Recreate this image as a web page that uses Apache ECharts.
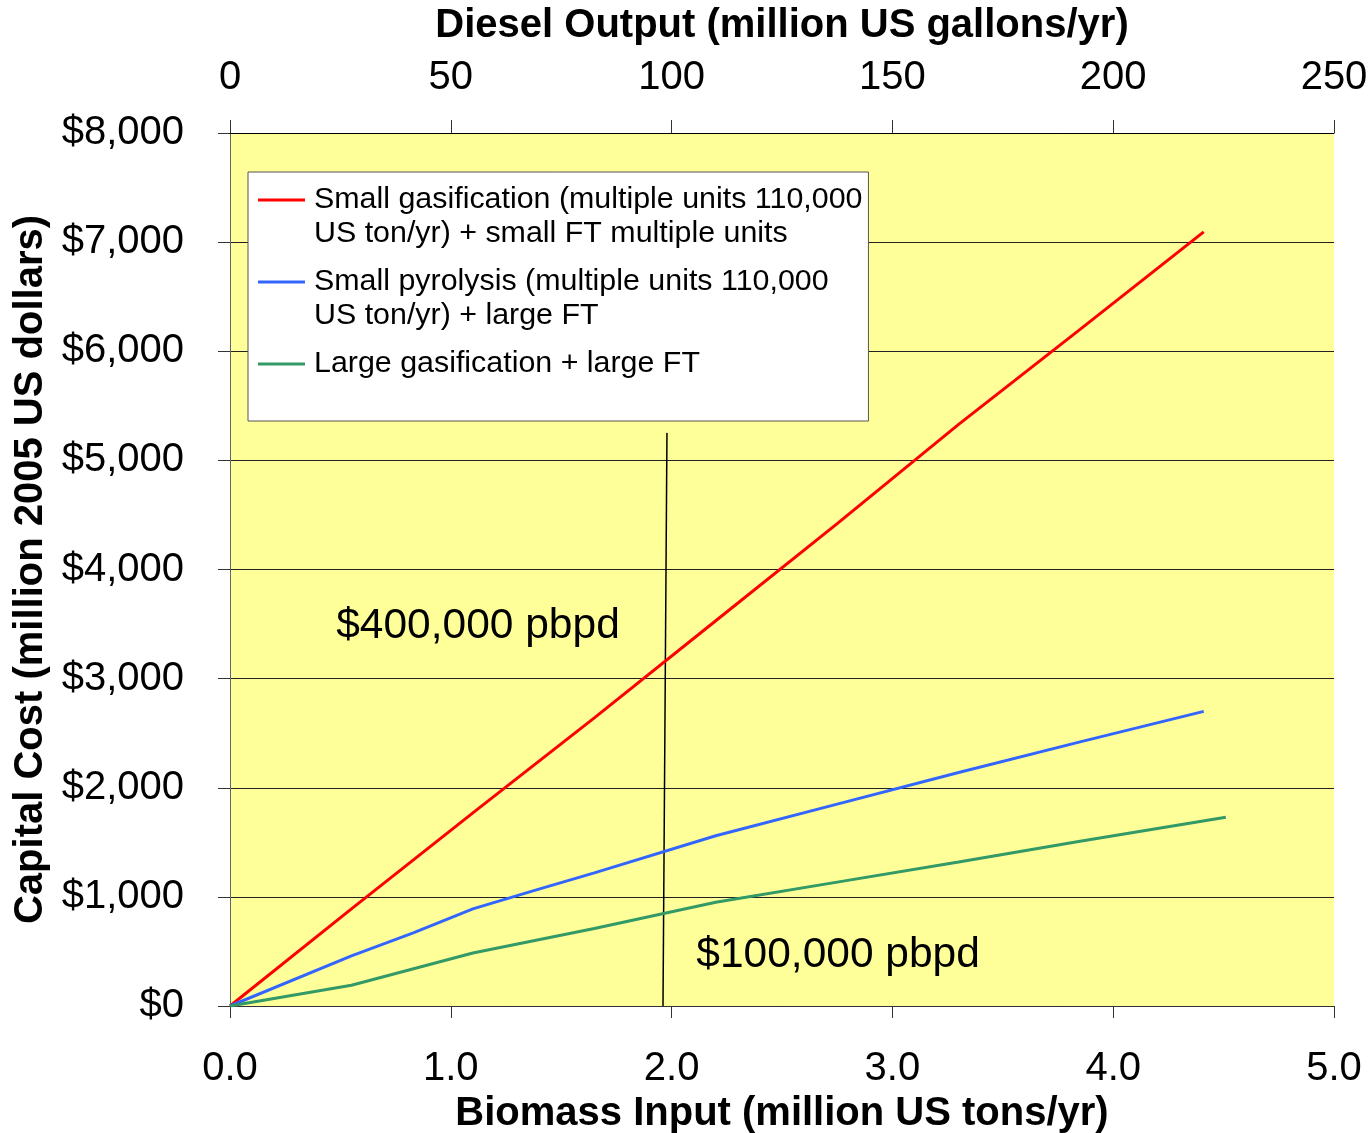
<!DOCTYPE html>
<html>
<head>
<meta charset="utf-8">
<script src="https://cdn.jsdelivr.net/npm/echarts@6/dist/echarts.min.js"></script>
<style>
html, body { margin: 0; padding: 0; background: #fff; }
#chart { width: 1372px; height: 1133px; }
</style>
</head>
<body>
<div id="chart"></div>
<script>
// series names
var nameRed = 'Small gasification (multiple units 110,000\nUS ton/yr) + small FT multiple units';
var nameBlue = 'Small pyrolysis (multiple units 110,000\nUS ton/yr) + large FT';
var nameGreen = 'Large gasification + large FT';

// biomass input (million US tons/yr) / capital cost (million $)
var redX = [0, 0.55, 1.1, 1.65, 2.2, 2.75, 3.3, 3.85, 4.41];
var redY = [0, 890, 1770, 2640, 3530, 4420, 5330, 6200, 7094];
var blueX = [0, 0.55, 0.83, 1.1, 1.38, 1.65, 2.2, 2.75, 3.3, 3.85, 4.41];
var blueY = [0, 460, 670, 890, 1060, 1220, 1560, 1850, 2140, 2420, 2700];
var greenX = [0, 0.55, 1.1, 1.65, 2.2, 2.75, 3.3, 3.85, 4.51];
var greenY = [0, 190, 485, 710, 950, 1135, 1320, 1510, 1730];

// divider line between the two cost levels
var divX = [1.979, 1.961];
var divY = [5252, 0];

// text notes
var noteText = ['$400,000 pbpd', '$100,000 pbpd'];
var noteX = [1.123, 2.754];
var noteY = [3483, 467];

// tick labels
var yTickLabels = ['$0', '$1,000', '$2,000', '$3,000', '$4,000', '$5,000', '$6,000', '$7,000', '$8,000'];
var xTickLabels = ['0.0', '1.0', '2.0', '3.0', '4.0', '5.0'];
var topTickLabels = ['0', '50', '100', '150', '200', '250'];

var FONT = 'Liberation Sans, Arial, sans-serif';

function zip(xs, ys) {
	var arr = [];
	for (var i = 0; i < xs.length; i++) {
		arr.push([xs[i], ys[i]]);
	}
	return arr;
}

var legendKey = {};
legendKey[nameRed] = 'r';
legendKey[nameBlue] = 'b';
legendKey[nameGreen] = 'g';

$init();

function $init() {
	var dom = document.getElementById('chart');
	var myChart = echarts.init(dom);

	var option = {
		backgroundColor: '#ffffff',
		animation: false,
		grid: {
			left: 230,
			right: 38,
			top: 133,
			bottom: 127,
			show: true,
			backgroundColor: '#ffff99',
			borderWidth: 0,
			outerBoundsMode: 'none'
		},
		legend: {
			data: [nameRed, nameBlue, nameGreen],
			orient: 'vertical',
			left: 248,
			top: 172,
			icon: 'rect',
			itemWidth: 0,
			itemHeight: 0,
			itemGap: 14,
			padding: [11, 6, 40, 5],
			backgroundColor: '#ffffff',
			borderColor: '#555555',
			borderWidth: 1,
			selectedMode: false,
			itemStyle: { opacity: 0 },
			formatter: function(name) {
				var lines = name.split('\n');
				var k = legendKey[name];
				var out = '{' + k + '|}{s|}{t|' + lines[0] + '}';
				for (var i = 1; i < lines.length; i++) {
					out += '\n{n|}{t|' + lines[i] + '}';
				}
				return out;
			},
			textStyle: {
				fontFamily: FONT,
				fontSize: 30.4,
				color: '#000',
				lineHeight: 34,
				rich: {
					r: { width: 47, height: 3, backgroundColor: '#ff0000', verticalAlign: 'middle' },
					b: { width: 47, height: 3, backgroundColor: '#3366ff', verticalAlign: 'middle' },
					g: { width: 47, height: 3, backgroundColor: '#339966', verticalAlign: 'middle' },
					s: { width: 9, height: 3 },
					n: { width: 56, height: 3 },
					t: { fontFamily: FONT, fontSize: 30.4, lineHeight: 34, color: '#000' }
				}
			}
		},
		xAxis: [
			{
				type: 'value',
				position: 'bottom',
				min: 0,
				max: 5,
				interval: 1,
				name: 'Biomass Input (million US tons/yr)',
				nameLocation: 'middle',
				nameGap: 86,
				nameTextStyle: { fontFamily: FONT, fontSize: 40, fontWeight: 'bold', color: '#000' },
				axisLine: { show: true, onZero: false, lineStyle: { color: '#333', width: 1 } },
				axisTick: { show: true, inside: false, length: 12, lineStyle: { color: '#333' } },
				axisLabel: {
					margin: 43,
					fontFamily: FONT,
					fontSize: 40,
					color: '#000',
					formatter: function(v, i) { return xTickLabels[i]; }
				},
				splitLine: { show: false }
			},
			{
				type: 'value',
				position: 'top',
				min: 0,
				max: 250,
				interval: 50,
				name: 'Diesel Output (million US gallons/yr)',
				nameLocation: 'middle',
				nameGap: 87,
				nameTextStyle: { fontFamily: FONT, fontSize: 40, fontWeight: 'bold', color: '#000' },
				axisLine: { show: true, onZero: false, lineStyle: { color: '#000', width: 1 } },
				axisTick: { show: true, inside: false, length: 13, lineStyle: { color: '#333' } },
				axisLabel: {
					margin: 35,
					fontFamily: FONT,
					fontSize: 40,
					color: '#000',
					formatter: function(v, i) { return topTickLabels[i]; }
				},
				splitLine: { show: false }
			}
		],
		yAxis: {
			type: 'value',
			min: 0,
			max: 8000,
			interval: 1000,
			name: 'Capital Cost (million 2005 US dollars)',
			nameLocation: 'middle',
			nameGap: 176,
			nameTextStyle: { fontFamily: FONT, fontSize: 40, fontWeight: 'bold', color: '#000' },
			axisLine: { show: true, onZero: false, lineStyle: { color: '#666', width: 1 } },
			axisTick: { show: true, inside: false, length: 12, lineStyle: { color: '#333' } },
			axisLabel: {
				margin: 46,
				fontFamily: FONT,
				fontSize: 40,
				color: '#000',
				formatter: function(v, i) { return yTickLabels[i]; }
			},
			splitLine: { show: true, lineStyle: { color: '#222', width: 1 } }
		},
		series: [
			{
				name: nameRed,
				type: 'line',
				xAxisIndex: 0,
				symbol: 'none',
				color: '#ff0000',
				lineStyle: { width: 3, color: '#ff0000' },
				data: zip(redX, redY),
				z: 5
			},
			{
				name: nameBlue,
				type: 'line',
				xAxisIndex: 0,
				symbol: 'none',
				color: '#3366ff',
				lineStyle: { width: 3, color: '#3366ff' },
				data: zip(blueX, blueY),
				z: 5
			},
			{
				name: nameGreen,
				type: 'line',
				xAxisIndex: 0,
				symbol: 'none',
				color: '#339966',
				lineStyle: { width: 3, color: '#339966' },
				data: zip(greenX, greenY),
				z: 5
			},
			{
				name: 'divider',
				type: 'line',
				xAxisIndex: 0,
				symbol: 'none',
				lineStyle: { width: 1.5, color: '#000' },
				data: zip(divX, divY),
				z: 4
			},
			{
				name: 'notes',
				type: 'scatter',
				xAxisIndex: 0,
				symbolSize: 0,
				itemStyle: { color: '#000', opacity: 1 },
				data: zip(noteX, noteY),
				label: {
					show: true,
					position: 'inside',
					fontFamily: FONT,
					fontSize: 42.5,
					color: '#000',
					opacity: 1,
					textBorderWidth: 0,
					formatter: function(p) { return noteText[p.dataIndex]; }
				},
				z: 6
			}
		]
	};

	if (option && typeof option === "object") {
		myChart.setOption(option, true);
	}
}
</script>
</body>
</html>
